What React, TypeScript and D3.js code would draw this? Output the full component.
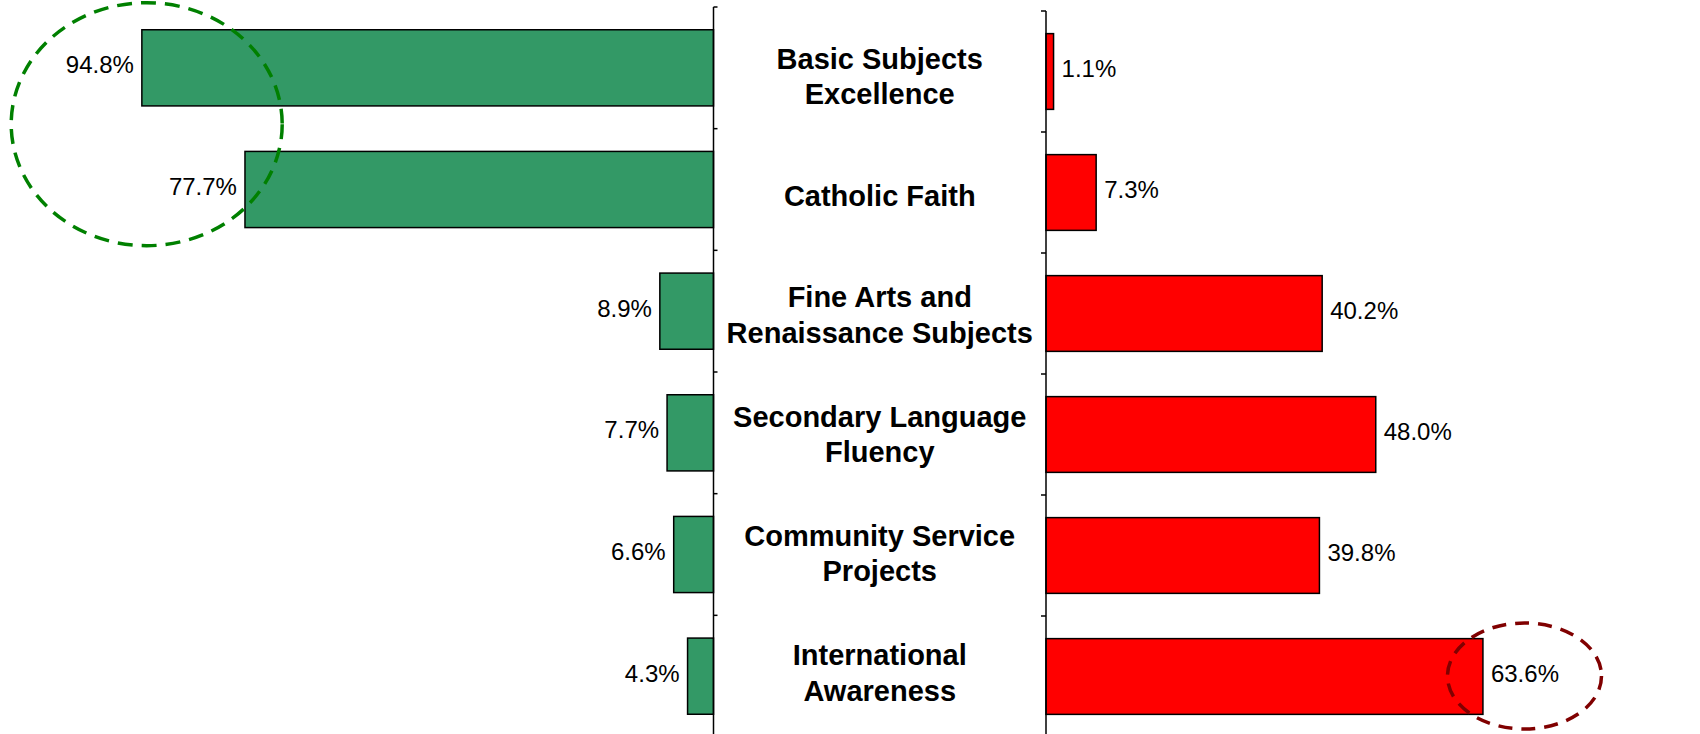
import React from "react";
import * as d3 from "d3";

const categories: string[][] = [
  ["Basic Subjects", "Excellence"],
  ["Catholic Faith"],
  ["Fine Arts and", "Renaissance Subjects"],
  ["Secondary Language", "Fluency"],
  ["Community Service", "Projects"],
  ["International", "Awareness"],
];
const leftValues = [94.8, 77.7, 8.9, 7.7, 6.6, 4.3];
const rightValues = [1.1, 7.3, 40.2, 48.0, 39.8, 63.6];

const W = 1700;
const H = 734;

export default function App() {
  const keys = categories.map((c) => c.join(" "));
  const pad = 0.374;
  const yL = d3.scaleBand<string>().domain(keys).range([7, 737]).paddingInner(pad).paddingOuter(pad / 2);
  const yR = d3.scaleBand<string>().domain(keys).range([11, 737]).paddingInner(pad).paddingOuter(pad / 2);
  const yLab = d3.scalePoint<string>().domain(keys).range([76.4, 672.5]);
  const axL = 713.5;
  const axR = 1046;
  const xL = d3.scaleLinear().domain([0, 100]).range([axL, axL - 603]);
  const xR = d3.scaleLinear().domain([0, 100]).range([axR, axR + 687]);
  const fmt = (v: number) => d3.format(".1f")(v) + "%";
  const labelX = (axL + axR) / 2;
  const font = "'Liberation Sans', Arial, sans-serif";

  const ticksL = keys.map((k) => (yL(k) as number) - (yL.step() * pad) / 2);
  const ticksR = keys.map((k) => (yR(k) as number) - (yR.step() * pad) / 2);

  return (
    <div style={{ position: "fixed", left: 0, top: 0, width: W, height: H, background: "#fff" }}>
      <svg width={W} height={H} style={{ display: "block" }} fontFamily={font}>
        <rect x={0} y={0} width={W} height={H} fill="#fff" />
        {/* left bars */}
        {keys.map((k, i) => (
          <g key={"l" + k}>
            <rect
              x={xL(leftValues[i])}
              y={yL(k)}
              width={xL(0) - xL(leftValues[i])}
              height={yL.bandwidth()}
              fill="#339966"
              stroke="#000"
              strokeWidth={1.5}
            />
            <text
              x={xL(leftValues[i]) - 8}
              y={(yL(k) as number) + yL.bandwidth() / 2 + 5.6}
              textAnchor="end"
              fontSize={24}
              fill="#000"
            >
              {fmt(leftValues[i])}
            </text>
          </g>
        ))}
        {/* right bars */}
        {keys.map((k, i) => (
          <g key={"r" + k}>
            <rect
              x={xR(0)}
              y={yR(k)}
              width={xR(rightValues[i]) - xR(0)}
              height={yR.bandwidth()}
              fill="#ff0000"
              stroke="#000"
              strokeWidth={1.5}
            />
            <text
              x={xR(rightValues[i]) + 8}
              y={(yR(k) as number) + yR.bandwidth() / 2 + 5.6}
              textAnchor="start"
              fontSize={24}
              fill="#000"
            >
              {fmt(rightValues[i])}
            </text>
          </g>
        ))}
        {/* axes */}
        <line x1={axL} x2={axL} y1={7} y2={H + 5} stroke="#000" strokeWidth={1.5} />
        {ticksL.map((t, i) => (
          <line key={"tl" + i} x1={axL} x2={axL + 4} y1={t} y2={t} stroke="#000" strokeWidth={1.5} />
        ))}
        <line x1={axR} x2={axR} y1={11} y2={H + 5} stroke="#000" strokeWidth={1.5} />
        {ticksR.map((t, i) => (
          <line key={"tr" + i} x1={axR - 5} x2={axR} y1={t} y2={t} stroke="#000" strokeWidth={1.5} />
        ))}
        {/* category labels */}
        {categories.map((lines, i) => {
          const mid = yLab(keys[i]) as number;
          const lh = 35.5;
          const first = mid - ((lines.length - 1) * lh) / 2 + 10.3;
          return (
            <text key={"c" + i} x={labelX} textAnchor="middle" fontSize={29} fontWeight="bold" fill="#000">
              {lines.map((ln, j) => (
                <tspan key={j} x={labelX} y={first + j * lh}>
                  {ln}
                </tspan>
              ))}
            </text>
          );
        })}
        {/* highlight ellipses */}
        <ellipse cx={146.7} cy={124.2} rx={135.5} ry={121.5} fill="none" stroke="#008000" strokeWidth={3.5} strokeDasharray="15 9" />
        <ellipse cx={1524.5} cy={676} rx={77} ry={53} fill="none" stroke="#800000" strokeWidth={3.5} strokeDasharray="14 9" />
      </svg>
    </div>
  );
}
